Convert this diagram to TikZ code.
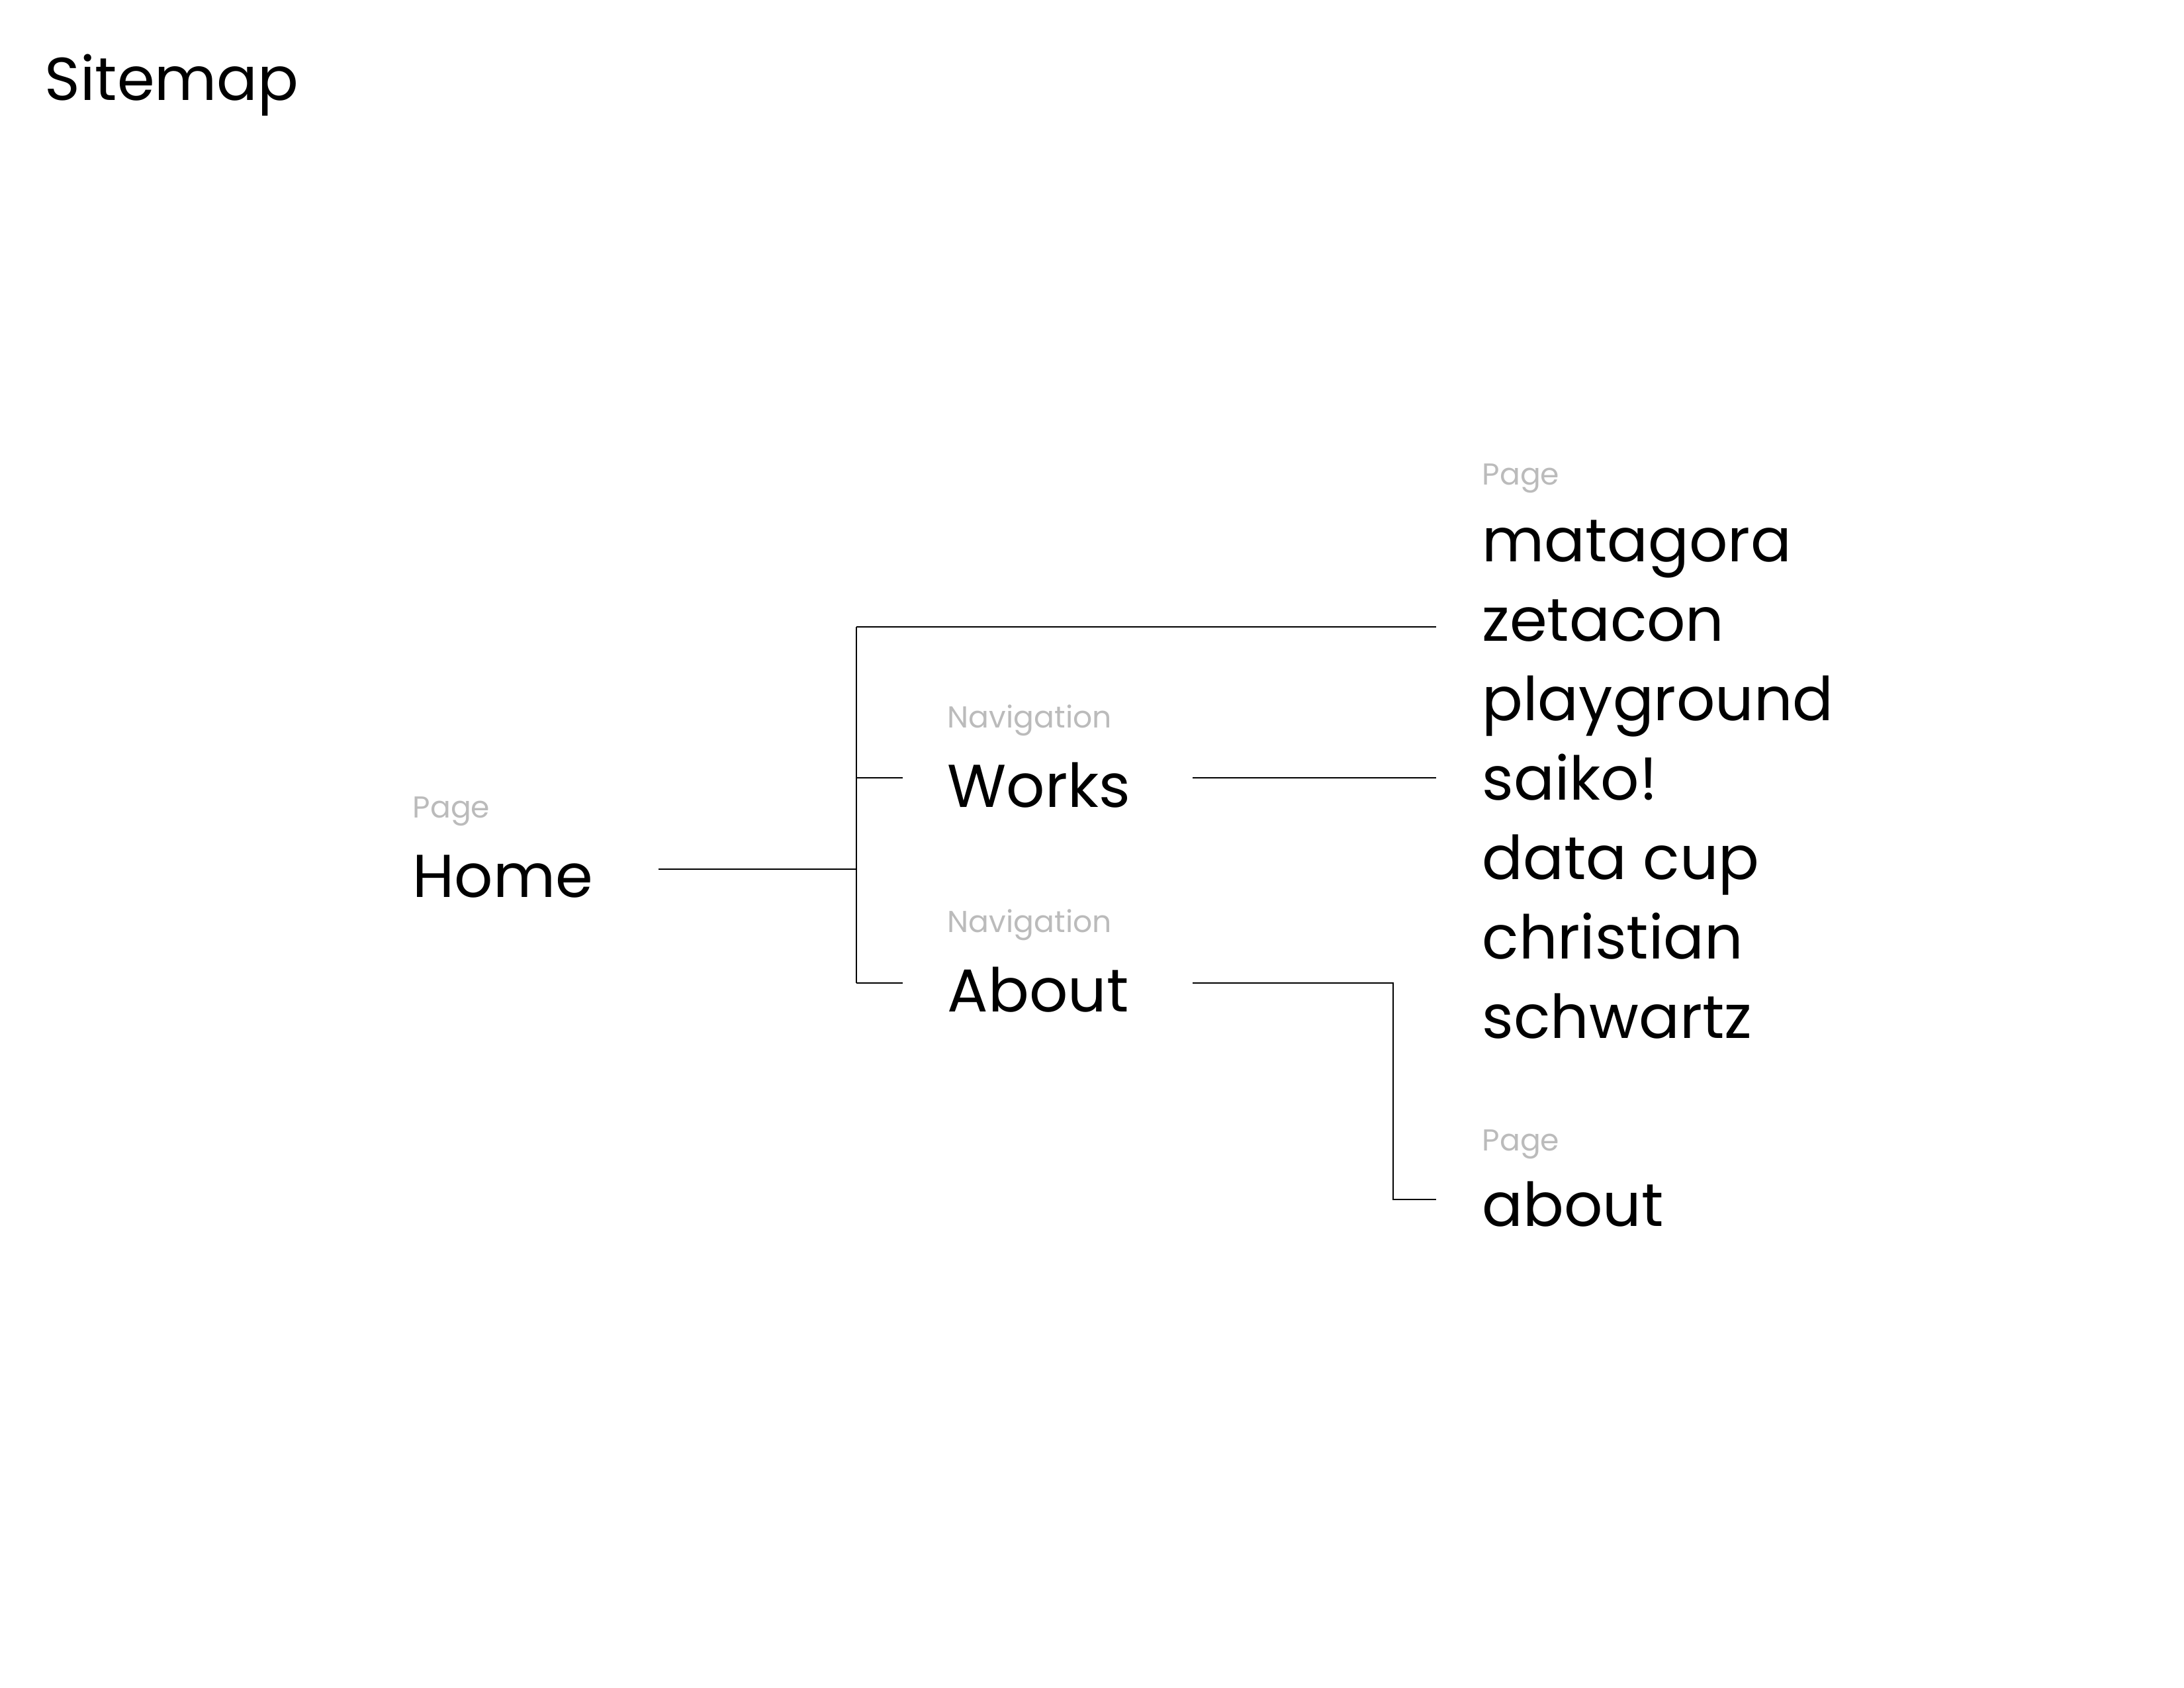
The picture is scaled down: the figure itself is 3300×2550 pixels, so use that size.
\documentclass[tikz,border=0pt]{standalone}
\usepackage{fontspec}
\setmainfont{Poppins}
\definecolor{taggray}{HTML}{BBBBBB}
\tikzset{
  title/.style={anchor=base west, inner sep=0, font=\fontsize{26}{31}\selectfont},
  item/.style={anchor=base west, inner sep=0, font=\fontsize{26}{31}\selectfont},
  tag/.style={anchor=base west, inner sep=0, text=taggray, font=\fontsize{13}{16}\selectfont},
  link/.style={draw, line width=0.8pt},
}
\begin{document}
\begin{tikzpicture}[x=0.1mm, y=-0.1mm]
\useasboundingbox (0,0) rectangle (3300,2550);

\node[title] (sitemap) at (67,152) {Sitemap};

\node[tag] (home-tag) at (623,1235) {Page};
\node[item] (home) at (623,1355) {Home};
\node[tag] (works-tag) at (1431,1099) {Navigation};
\node[item] (works) at (1431,1219) {Works};
\node[tag] (about-tag) at (1431,1408) {Navigation};
\node[item] (about) at (1431,1528) {About};

\node[tag] (pages-tag) at (2239,732) {Page};
\foreach \name [count=\i] in {matagora,zetacon,playground,saiko!,data cup,christian,schwartz}
  \node[item] (page-\i) at (2239,728+120*\i) {\name};
\node[tag] (aboutpage-tag) at (2239,1738) {Page};
\node[item] (aboutpage) at (2239,1852) {about};

% tree lines
\coordinate (home-out) at (995,1313);
\coordinate (split) at (1294,1313);
\coordinate (split-top) at (1294,947);
\coordinate (split-bottom) at (1294,1485);
\coordinate (works-in) at (1364,1175);
\coordinate (about-in) at (1364,1485);
\coordinate (works-out) at (1802,1175);
\coordinate (about-out) at (1802,1485);
\coordinate (about-bend) at (2105,1485);
\coordinate (zetacon-in) at (2170,947);
\coordinate (saiko-in) at (2170,1175);
\coordinate (aboutpage-in) at (2170,1812);

\path[link] (home-out) -- (split);
\path[link] (split-top) -- (split-bottom);
\path[link] (split-top) -- (zetacon-in);
\path[link] (split |- works-in) -- (works-in);
\path[link] (split-bottom) -- (about-in);
\path[link] (works-out) -- (saiko-in);
\path[link] (about-out) -- (about-bend) |- (aboutpage-in);
\end{tikzpicture}
\end{document}
